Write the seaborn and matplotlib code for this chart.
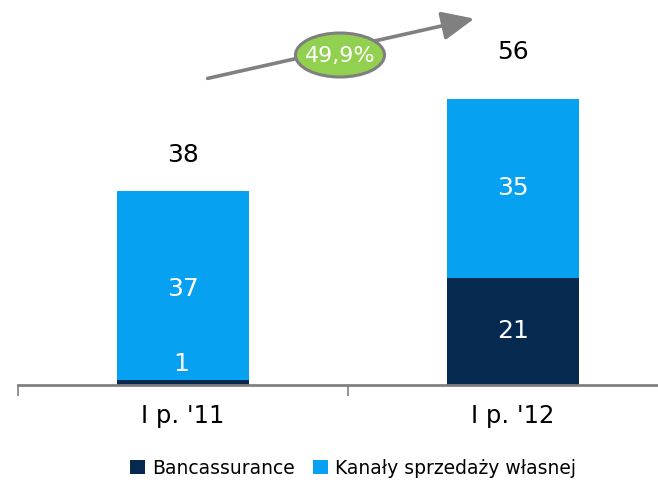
import matplotlib
matplotlib.use("Agg")
import matplotlib.pyplot as plt
import seaborn as sns
import pandas as pd
import numpy as np
from matplotlib.patches import Ellipse, Patch

categories = ["I p. '11", "I p. '12"]
bancassurance = [1, 21]
kanaly = [37, 35]
totals = [38, 56]
growth_label = "49,9%"
series_names = ["Bancassurance", "Kanały sprzedaży własnej"]

dark = "#062A4F"
light = "#07A1F2"

sns.set_theme(style="white")
plt.rcParams['font.family'] = ['DejaVu Sans']
plt.rcParams['text.color'] = 'black'

fig = plt.figure(figsize=(6.58, 4.8), dpi=100)
ax = fig.add_axes([18/658, 95/480, 660/658, 385/480])

df = pd.DataFrame({"cat": categories, "banc": bancassurance, "kan": kanaly,
                   "total": [b + k for b, k in zip(bancassurance, kanaly)]})

sns.barplot(data=df, x="cat", y="total", color=light, width=0.4, ax=ax,
            saturation=1, edgecolor="none")
sns.barplot(data=df, x="cat", y="banc", color=dark, width=0.4, ax=ax,
            saturation=1, edgecolor="none")

ax.set_xlim(-0.5, 1.5)
ymax = 385 / (286 / 56)
ax.set_ylim(0, ymax)
ax.set_xlabel("")
ax.set_ylabel("")
ax.set_yticks([])
for s in ["top", "right", "left"]:
    ax.spines[s].set_visible(False)
ax.spines["bottom"].set_color("#808080")
ax.spines["bottom"].set_linewidth(2)
ax.set_xticks([-0.5, 0.5, 1.5], minor=False)
ax.set_xticklabels(["", "", ""])
ax.tick_params(axis="x", which="major", bottom=True, length=8, width=1.2,
               color="#808080", labelsize=0)
ax.set_xticks([0, 1], minor=True)
ax.set_xticklabels(categories, minor=True)
ax.tick_params(axis="x", which="minor", bottom=False, length=0, pad=14,
               labelsize=17.5, labelcolor="black")

px = ymax / 385
for i in range(2):
    b = bancassurance[i]
    k = kanaly[i]
    if b >= 5:
        ax.text(i, b / 2, str(b), ha="center", va="center", color="white", fontsize=18)
        ax.text(i, b + k / 2, str(k), ha="center", va="center", color="white", fontsize=18)
    else:
        ax.text(i - 0.006, b + 16 * px, str(b), ha="center", va="center", color="white", fontsize=18)
        ax.text(i, b + k - 98 * px, str(k), ha="center", va="center", color="white", fontsize=18)
    ax.text(i, totals[i] + (36 if i == 0 else 47) * px, str(totals[i]), ha="center",
            va="center", color="black", fontsize=18)

# growth arrow (figure pixel coords)
def fp(x, y):
    return (x / 658, 1 - y / 480)

fig.patches.append(matplotlib.patches.FancyArrowPatch(
    fp(205, 79), fp(477, 18), transform=fig.transFigure,
    arrowstyle="-|>,head_length=9,head_width=4", mutation_scale=2.2,
    color="#808080", linewidth=2.6))
ell = Ellipse(fp(340, 55), 89 / 658, 44 / 480, transform=fig.transFigure,
              facecolor="#92D050", edgecolor="#7F7F7F", linewidth=2.2)
fig.patches.append(ell)
fig.text(*fp(340, 56), growth_label, ha="center", va="center", color="white",
         fontsize=16)

handles = [Patch(facecolor=dark, edgecolor="none"), Patch(facecolor=light, edgecolor="none")]
fig.legend(handles, series_names, loc="center", bbox_to_anchor=fp(353, 468),
           ncol=2, frameon=False, fontsize=13.5, handlelength=0.8, handleheight=0.8,
           handletextpad=0.35, columnspacing=1.0, borderpad=0, labelcolor="black")

fig.savefig("out.png", dpi=100)
